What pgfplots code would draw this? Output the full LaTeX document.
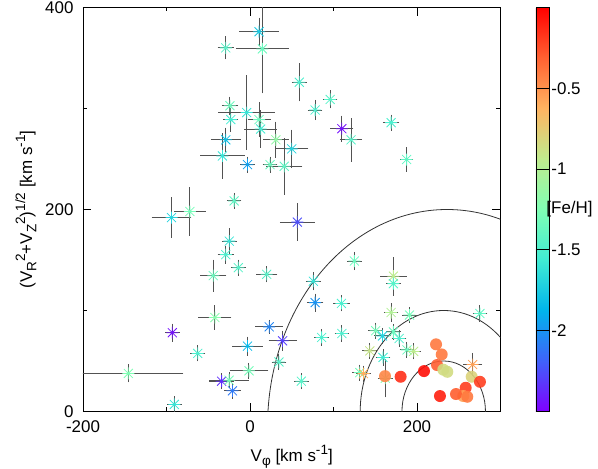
\documentclass[border=0pt]{standalone}
\usepackage{fontspec}
\setmainfont{Liberation Sans}
\usepackage{pgfplots}
\pgfplotsset{compat=1.18}
\usepackage{pgfplotstable}

\newcommand\gsup[1]{\raisebox{0.42em}{\fontsize{13.6}{15}\selectfont #1}}
\newcommand\gsub[1]{\raisebox{-0.25em}{\fontsize{13.6}{15}\selectfont #1}}

\pgfdeclareplotmark{gpstar}{%
  \pgfpathmoveto{\pgfqpoint{-\pgfplotmarksize}{0pt}}%
  \pgfpathlineto{\pgfqpoint{\pgfplotmarksize}{0pt}}%
  \pgfpathmoveto{\pgfqpoint{0pt}{-\pgfplotmarksize}}%
  \pgfpathlineto{\pgfqpoint{0pt}{\pgfplotmarksize}}%
  \pgfpathmoveto{\pgfqpoint{-0.75\pgfplotmarksize}{-0.75\pgfplotmarksize}}%
  \pgfpathlineto{\pgfqpoint{0.75\pgfplotmarksize}{0.75\pgfplotmarksize}}%
  \pgfpathmoveto{\pgfqpoint{-0.75\pgfplotmarksize}{0.75\pgfplotmarksize}}%
  \pgfpathlineto{\pgfqpoint{0.75\pgfplotmarksize}{-0.75\pgfplotmarksize}}%
  \pgfusepathqstroke}

\pgfplotstableread{
x y ex ey c
10.8 376 19 10 -1.75
14.8 359 27 40 -1.35
-29 360 5 7.5 -1.45
59 326 4 15 -1.5
-24 302.7 5 5 -1.35
-4 296 29 33 -1.6
-23 289 4 8 -1.55
10.8 289 9 13 -1.35
12.8 279.7 14.6 14.5 -1.55
-29 269 13 8 -1.8
31 269 10.6 14 -1.15
50 260 15 15 -1.7
-33 253 22 18.6 -1.6
-3 244.4 4 4 -1.95
24 244.4 4 4 -1.35
41 242.8 17 24 -1.4
-19 208.5 4 4 -1.4
-94 192 19 16 -1.7
-72 198 14 20 -1.3
78 298.5 4 6 -1.5
96 309 4 5 -1.45
110 280 9 9 -2.45
121 269 8.6 17.6 -1.45
169 286 5 4 -1.5
187.6 249.5 3 8 -1.4
56.7 187.5 16 14.5 -2.25
125 149 4 5 -1.35
171.7 134 11 15 -0.95
171.7 126.6 4 8 -1.45
75.8 129 4 5 -1.6
78 107.8 5 5 -2.0
109.5 107 5 4 -1.5
169 98 4 5 -1.0
191 95.5 4 4 -1.3
275.4 97 4 4 -1.4
-24.8 168.7 4 9 -1.6
-29 155.3 5 5 -1.5
-14 142.4 4 4 -1.45
20 135.8 8 4 -1.45
-44 134.5 11 12 -1.35
-42 93 15 8 -1.2
-93 78 4 5 -2.45
23 83.8 12 3 -2.05
39 70 12 6 -2.3
-3 64.7 13.4 5.5 -1.85
-62.6 57.5 4 4 -1.5
34.7 49 4 4 -1.45
-145.7 37.7 61 5 -1.25
-1.2 40.3 18.4 4 -1.3
-34 30 10 4 -2.35
-25 31 19 4 -1.3
-21 20.5 5 4 -2.1
-90.6 7 4 4 -1.6
61.5 30 4 4 -1.45
85.8 73.3 4 4 -1.5
110 77.2 4 4 -1.5
150.5 80 4 4 -1.3
158.7 74.8 5 4 -1.7
171.7 78.8 4 4 -1.35
178.6 72.3 4 4 -1.5
143.5 60 4 4 -0.9
188 61 4 4 -1.35
196 59.5 4 4 -0.95
159.3 53.5 4 4 -1.55
131.5 38.5 4 4 -1.3
136 37.5 4 4 -0.6
162 33 4 15 -1.2
266.7 46.5 6.6 7.5 -0.55
}\stars

\pgfplotstableread{
x y c
161.7 35 -0.45
180.4 34.4 -0.15
208.4 40 -0.05
222.8 66.5 -0.4
229.6 56.5 -0.4
224 46 -0.3
231.5 41.4 -0.85
236.3 39.3 -0.85
265.5 34.4 -0.8
275.4 29.4 -0.2
258.3 23.5 -0.2
255.4 15.3 -0.55
246.7 17.3 -0.3
260.2 14.6 -0.4
227.5 15.3 -0.1
}\disk

\pgfplotsset{
  colormap={gprainbow}{rgb=(0.5,0,1) rgb=(0.25,0.383,0.981) rgb=(0,0.707,0.924)
    rgb=(0.25,0.924,0.831) rgb=(0.5,1,0.707) rgb=(0.75,0.924,0.556)
    rgb=(1,0.707,0.383) rgb=(1,0.383,0.195) rgb=(1,0,0)}
}

\begin{document}
\begin{tikzpicture}
\begin{axis}[
  at={(0,0)}, anchor=south west,
  scale only axis, width=417.5bp, height=404bp,
  xmin=-200, xmax=300, ymin=0, ymax=400,
  xtick={-200,0,200}, minor xtick={-100,100},
  ytick={0,200,400}, minor ytick={100,300},
  tick align=inside,
  major tick length=8bp, minor tick length=4bp,
  axis line style={black, line width=0.9bp},
  every tick/.style={black, line width=0.9bp},
  /pgf/number format/assume math mode=true,
  tick label style={font=\fontsize{17}{20}\selectfont},
  xticklabel style={yshift=-6bp},
  yticklabel style={xshift=-6bp},
  label style={font=\fontsize{17}{20}\selectfont},
  xlabel={V\gsub{φ} [km s\gsup{-1}]},
  ylabel={(V\gsub{R}\gsup{2}+V\gsub{Z}\gsup{2})\gsup{1/2} [km s\gsup{-1}]},
  xlabel style={yshift=-5bp},
  ylabel style={yshift=2bp},
  colormap name=gprainbow,
  point meta min=-2.5, point meta max=0,
  colorbar right,
  colorbar style={
    width=13bp,
    at={(parent axis.right of north east)}, anchor=north west,
    xshift=26.5bp,
    ytick={-2,-1.5,-1,-0.5},
    yticklabels={{\symbol{45}2},{\symbol{45}1.5},{\symbol{45}1},{\symbol{45}0.5}},
    tick align=inside,
    major tick length=7bp,
    axis line style={black, line width=0.9bp},
    every tick/.style={black, line width=0.9bp},
    yticklabel style={font=\fontsize{17}{20}\selectfont, anchor=west, xshift=-1bp},
    ylabel={[Fe/H]},
    ylabel style={rotate=-90, at={(axis description cs:1,0.5)}, anchor=west, xshift=-6bp, font=\fontsize{17}{20}\selectfont},
  },
]
\draw[black!80, line width=0.8bp] (axis cs:232,0) ellipse [x radius=50, y radius=50];
\draw[black!80, line width=0.8bp] (axis cs:232,0) ellipse [x radius=100, y radius=100];
\draw[black!80, line width=0.8bp] (axis cs:236,-15) ellipse [x radius=215, y radius=215];

\addplot[scatter, only marks, mark=gpstar, mark size=6bp,
  point meta=explicit,
  scatter/use mapped color={draw=mapped color},
  mark options={line width=0.8bp},
  error bars/.cd, x dir=both, x explicit, y dir=both, y explicit,
  error bar style={line width=1bp, black!68},
  error mark options={mark size=4bp, line width=1bp, black!68}]
  table[x=x, y=y, x error=ex, y error=ey, meta=c]{\stars};

\addplot[scatter, only marks, mark=*, mark size=6bp,
  point meta=explicit,
  scatter/use mapped color={draw=mapped color, fill=mapped color},
  mark options={fill opacity=0.9, draw opacity=0}]
  table[x=x, y=y, meta=c]{\disk};
\end{axis}
\pgfresetboundingbox
\path[use as bounding box] (-83bp,-57.5bp) rectangle (515bp,411.5bp);
\end{tikzpicture}
\end{document}
